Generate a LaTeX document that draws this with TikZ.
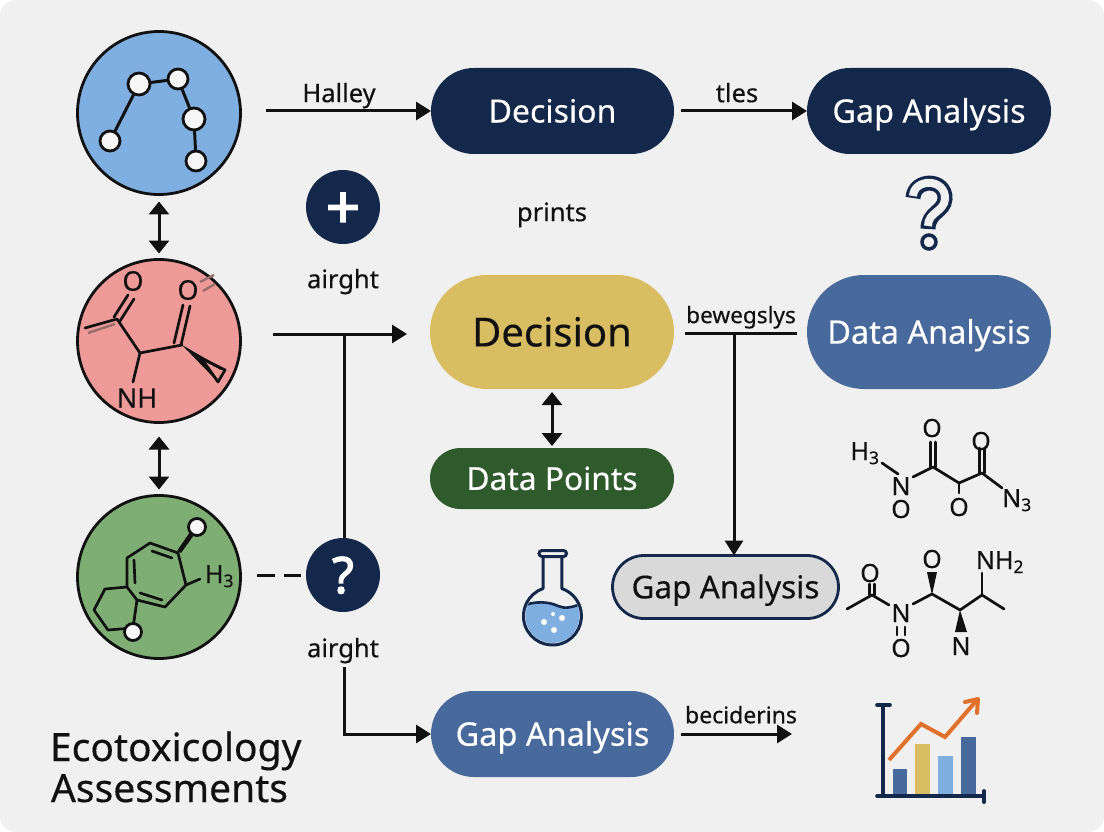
\documentclass[tikz,border=0pt]{standalone}
\usepackage{fontspec}
\setmainfont{Noto Sans}[FakeBold=0.35]
\newfontfamily\heavyf{Noto Sans}[FakeBold=2.5]
\usetikzlibrary{arrows.meta,calc}
\definecolor{bgc}{HTML}{F0F0F0}
\definecolor{navy}{HTML}{13284A}
\definecolor{cblue}{HTML}{7FAEE0}
\definecolor{cred}{HTML}{ED9A98}
\definecolor{cgreen}{HTML}{7FAE75}
\definecolor{steel}{HTML}{48699C}
\definecolor{gold}{HTML}{D9BD62}
\definecolor{moss}{HTML}{2F5A2C}
\definecolor{orng}{HTML}{E0702A}
\definecolor{lite}{HTML}{D9D9D9}
\definecolor{ink}{HTML}{111111}
\newcommand{\fsz}[1]{\fontsize{#1}{#1}\selectfont}
\tikzset{
  x=1pt,y=-1pt,
  fs/.code={\pgfmathsetmacro\hh{#1*.72}\edef\tmpk{\noexpand\tikzset{font=\noexpand\fsz{#1},text height=\hh pt}}\tmpk},
  fsh/.code={\pgfmathsetmacro\hh{#1*.72}\edef\tmpk{\noexpand\tikzset{font=\noexpand\heavyf\noexpand\fsz{#1},text height=\hh pt}}\tmpk},
  every node/.style={inner sep=0pt,outer sep=0pt,text=ink,text depth=0pt},
  bigcirc/.style={circle,draw=ink,line width=2.8pt,minimum size=163pt},
  dotc/.style={circle,fill=navy,minimum size=74pt,text=white},
  pill/.style={rectangle,minimum width=#1,align=center},
  lab/.style={fs=25.5},
  flow/.style={draw=ink,line width=3pt,-{Triangle[length=15pt,width=18pt]}},
  plainl/.style={draw=ink,line width=3pt},
  both/.style={draw=ink,line width=3pt,{Triangle[length=13pt,width=20pt]}-{Triangle[length=13pt,width=20pt]}},
  bond/.style={draw=ink,line width=2.7pt,line cap=round,line join=round},
  atom/.style={circle,draw=ink,line width=2.8pt,fill=bgc!60!white},
  chem/.style={fs=25},
}
\begin{document}
\begin{tikzpicture}
\useasboundingbox (0,0) rectangle (1104,832);
\fill[white] (0,0) rectangle (1104,832);
\fill[bgc,rounded corners=16pt] (0,0) rectangle (1104,832);

% big circles
\node[bigcirc,fill=cblue] (blue) at (159,113) {};
\node[bigcirc,fill=cred] (red) at (159,341) {};
\node[bigcirc,fill=cgreen] (green) at (159,577) {};

% pills
\node[pill=243pt,minimum height=86pt,fill=navy,rounded corners=43pt,text=white,fs=32] (dec1) at (552.5,111) {Decision};
\node[pill=244pt,minimum height=86pt,fill=navy,rounded corners=43pt,text=white,fs=32.4] (gap1) at (929,111) {Gap Analysis};
\node[pill=244pt,minimum height=114pt,fill=gold,rounded corners=57pt,fs=40] (dec2) at (552,332) {Decision};
\node[pill=244pt,minimum height=114pt,fill=steel,rounded corners=57pt,text=white,fs=32.4] (data) at (929,332) {Data Analysis};
\node[pill=244pt,minimum height=61pt,fill=moss,rounded corners=30.5pt,text=white,fs=31.7] (pts) at (552,478.5) {Data Points};
\node[pill=226pt,minimum height=63pt,fill=lite,draw=navy,line width=2.8pt,rounded corners=31.5pt,fs=31.5] (gap2) at (725.5,587) {Gap Analysis};
\node[pill=243pt,minimum height=86pt,fill=steel,rounded corners=43pt,text=white,fs=32.5] (gap3) at (552.5,734) {Gap Analysis};

% small dark circles
\node[dotc,fsh=60] (plus) at (343,207) {+};
\node[dotc,fsh=50] (qm) at (343,575) {?};

% labels
\node[lab] (l1) at (339,93) {Halley};
\node[lab] (l2) at (737,93) {tles};
\node[lab] (l3) at (552,212) {prints};
\node[lab] (l4) at (343,279) {airght};
\node[fs=22.6] (l5) at (741,315) {bewegslys};
\node[lab] (l6) at (343,648) {airght};
\node[fs=23] (l7) at (741,715) {beciderins};
\node[anchor=west,fs=39] (title1) at (50,747) {Ecotoxicology};
\node[anchor=west,fs=39] (title2) at (51,788) {Assessments};

% helper coordinates (free ends)
\coordinate (a1s) at (266,111);
\coordinate (a3s) at (273,334);
\coordinate (a3e) at (407,334);
\coordinate (j1) at (344,334);
\coordinate (tb1) at (685,333);
\coordinate (tb2) at (797,333);
\coordinate (tbj) at (734,333);
\coordinate (down) at (344,667);
\coordinate (corner) at (344,734);
\coordinate (last) at (792,734);

% connectors
\draw[flow] (a1s) -- (dec1.west);
\draw[flow] ([xshift=7pt]dec1.east) -- (gap1.west);
\draw[flow] (a3s) -- (a3e);
\draw[plainl] (j1) -- (j1 |- qm.north);
\draw[plainl] (tb1) -- (tb2);
\draw[flow] (tbj) -- (tbj |- gap2.north);
\draw[both,shorten <=7pt,shorten >=6pt] (blue.south) -- (red.north);
\draw[both,shorten <=14pt,shorten >=6pt] (red.south) -- (green.north);
\draw[both,shorten <=3pt,shorten >=2pt] (dec2.south) -- (pts.north);
\draw[plainl,dash pattern=on 18pt off 9pt] ([xshift=16pt]green.east |- qm.west) -- ([xshift=-5pt]qm.west);
\draw[flow] (down) -- (corner) -- (gap3.west);
\draw[flow] ([xshift=7pt]gap3.east) -- (last);

% blue molecule
\draw[bond,line width=3pt] (110,141) -- (139,84) -- (178,79) -- (194,119) -- (196,161);
\node[atom,minimum size=20pt] (m1) at (110,141) {};
\node[atom,minimum size=22pt] (m2) at (139,84) {};
\node[atom,minimum size=20pt] (m3) at (178,79) {};
\node[atom,minimum size=22pt] (m4) at (194,119) {};
\node[atom,minimum size=20pt] (m5) at (196,161) {};

% red molecule
\draw[bond] (85,328) -- (117,319) -- (140,353) -- (182,345);
\draw[bond] (140,353) -- (133,382);
\draw[bond] (114,317) -- (128,295);
\draw[bond] (120,321) -- (134,299);
\draw[bond] (174,343) -- (183,305);
\draw[bond] (181,345) -- (190,306);
\fill[ink] (182,345) -- (222,368) -- (216,380) -- cycle;
\fill[cred] (205,361.5) -- (221.5,370.5) -- (217,378) -- cycle;
\draw[bond] (205,360) -- (225,370) -- (218,382) -- (204,362);
\draw[draw=cred!55!black!85,line width=2.4pt] (88,333) -- (115,324);
\draw[draw=cred!55!black!85,line width=2.4pt] (200,282) -- (214,275);
\draw[draw=cred!55!black!85,line width=2.4pt] (203,291) -- (215,284);
\node[fs=27] (ro1) at (133,281) {O};
\node[fs=27] (ro2) at (188,290) {O};
\node[fs=27] (rnh) at (137,398) {NH};

% green molecule
\draw[bond] (150,543) -- (178,553) -- (186,585) -- (165,607) -- (137,600) -- (127,587) -- (127,558) -- cycle;
\draw[bond] (152,551) -- (172,558);
\draw[bond] (134,560) -- (135,583);
\draw[bond] (140,593) -- (162,600);
\draw[bond] (127,587) -- (105,589) -- (94,610) -- (108,630) -- (133,628) -- (137,600);
\draw[bond] (186,585) -- (200,579);
\fill[ink] (177,551) -- (181,553) -- (194,535) -- (190,532) -- cycle;
\node[atom,minimum size=17pt,fill=white!95!gray] (g1) at (197,527) {};
\node[atom,minimum size=17pt,fill=white!95!gray] (g2) at (133,632) {};
\node[chem,anchor=west] (gh) at (205,574) {H\textsubscript{3}};

% upper right molecule
\draw[bond] (882,463) -- (898,474);
\draw[bond] (913,477) -- (933,467) -- (959,483) -- (982,473) -- (1002,488);
\draw[bond] (959,483) -- (959,493);
\draw[bond] (930.5,467) -- (930.5,442);
\draw[bond] (935.5,467) -- (935.5,442);
\draw[bond] (979.5,473) -- (979.5,448);
\draw[bond] (984.5,473) -- (984.5,448);
\node[chem] (u1) at (865,451) {H\textsubscript{3}};
\node[chem] (u2) at (901,486) {N};
\node[chem] (u3) at (901,509) {O};
\node[chem] (u4) at (932,428) {O};
\node[chem] (u5) at (959,507) {O};
\node[chem] (u6) at (981,441) {O};
\node[chem] (u7) at (1017,498) {N\textsubscript{3}};

% lower right molecule
\draw[bond] (847,609) -- (872,595) -- (889,605);
\draw[bond] (913,604) -- (932,594) -- (960,610) -- (982,595) -- (1004,609);
\draw[bond] (982,595) -- (982,573);
\draw[bond] (869.5,595) -- (869.5,584);
\draw[bond] (874.5,595) -- (874.5,584);
\draw[bond] (897,627) -- (897,635);
\draw[bond] (905,627) -- (905,635);
\fill[ink] (932,595) -- (927,572) -- (937,572) -- cycle;
\fill[ink] (960,610) -- (955,632) -- (967,632) -- cycle;
\node[chem] (d1) at (870,573) {O};
\node[chem] (d2) at (901,613) {N};
\node[chem] (d3) at (901,648) {O};
\node[chem] (d4) at (932,559) {O};
\node[chem] (d5) at (961,646) {N};
\node[chem] (d6) at (1000,560) {NH\textsubscript{2}};

% flask
\begin{scope}
\clip (552.5,616) circle[radius=27pt];
\fill[cblue] (520,607) .. controls (535,600) and (550,602) .. (558,606) .. controls (565,609) and (572,608) .. (585,602) -- (585,650) -- (520,650) -- cycle;
\draw[navy,line width=2.6pt] (520,607) .. controls (535,600) and (550,602) .. (558,606) .. controls (565,609) and (572,608) .. (585,602);
\end{scope}
\fill[white] (553,614) circle[radius=2pt] (544,622) circle[radius=3pt] (562,618) circle[radius=3pt] (554,630) circle[radius=3pt];
\draw[navy,line width=3pt,line join=round] (543,556.5) -- (543,588.6) arc[start angle=109,end angle=431,radius=29pt] -- (562,556.5);
\draw[navy,line width=3pt,rounded corners=3pt] (539,550.5) rectangle (566.5,556.5);

% chart
\fill[steel] (893,769) rectangle (907,795);
\fill[gold] (915,744) rectangle (930,795);
\fill[cblue] (938,756) rectangle (953,795);
\fill[steel] (961,737) rectangle (976,795);
\draw[navy,line width=3.6pt,line cap=round] (877,705) -- (890,705);
\draw[navy,line width=3.6pt] (883,705) -- (883,796);
\draw[navy,line width=3.6pt,line cap=round] (877,796) -- (984,796);
\draw[navy,line width=4pt,line cap=round] (984,791) -- (984,802);
\draw[orng,line width=4pt,line join=miter] (889,760) -- (921,724) -- (945,737) -- (977,700);
\draw[orng,line width=4pt,line cap=round,line join=round] (965,702) -- (978,699) -- (977,713);

% hollow question mark
\draw[navy,line width=15pt,line cap=butt] (913,198) .. controls (914,178) and (946,178) .. (945,199) .. controls (944,212) and (928,212) .. (928,229);
\draw[bgc,line width=8pt,line cap=butt] (913,196) .. controls (914,178) and (946,178) .. (945,199) .. controls (944,212) and (928,212) .. (928,226);
\draw[navy,line width=3.5pt,fill=bgc] (929,242) circle[radius=7pt];
\end{tikzpicture}
\end{document}
